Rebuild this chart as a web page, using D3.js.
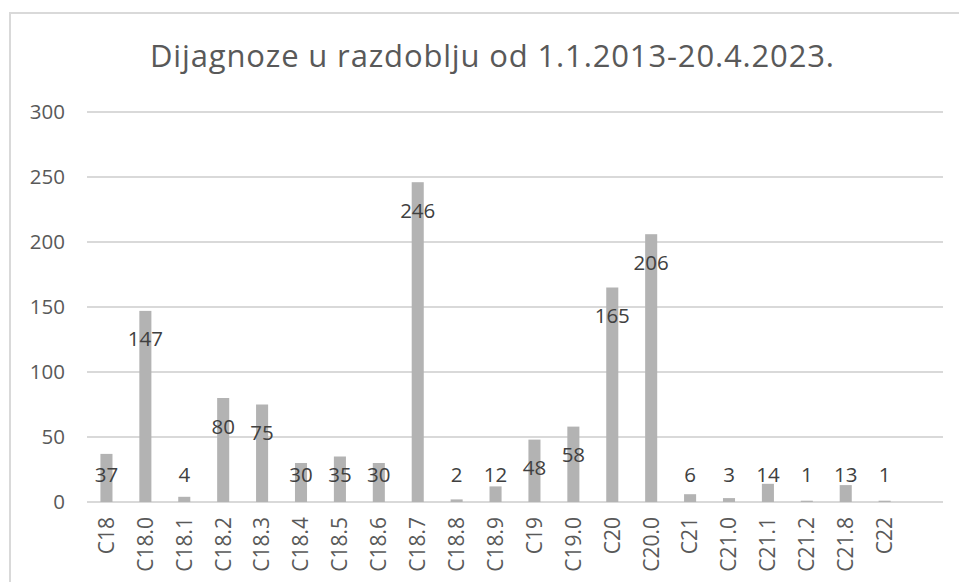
<!DOCTYPE html>
<html><head><meta charset="utf-8">
<script src="https://cdn.jsdelivr.net/npm/d3@7"></script>
<style>body{margin:0;background:#fff}svg{display:block}</style>
</head><body>
<svg id="c" width="959" height="582"></svg>
<script>
const categories = ["C18","C18.0","C18.1","C18.2","C18.3","C18.4","C18.5","C18.6","C18.7","C18.8","C18.9","C19","C19.0","C20","C20.0","C21","C21.0","C21.1","C21.2","C21.8","C22"];
const values = [37,147,4,80,75,30,35,30,246,2,12,48,58,165,206,6,3,14,1,13,1];
const yTicks = [0,50,100,150,200,250,300];
const title = "Dijagnoze u razdoblju od 1.1.2013-20.4.2023.";

const svg = d3.select("#c");
const font = "'Open Sans', sans-serif";
svg.append("rect").attr("x",10).attr("y",13).attr("width",970).attr("height",600)
  .attr("fill","#fff").attr("stroke","#d9d9d9").attr("stroke-width",2);

// plot area holds one empty slot after the last category
const slot = (943 - 87) / (categories.length + 1);
const x = d3.scaleBand().domain(categories).range([87, 943 - slot]).paddingInner(0.69).paddingOuter(0.345);
const y = d3.scaleLinear().domain([0,300]).range([502,112]);

const grid = svg.append("g");
grid.selectAll("line").data(yTicks).join("line")
  .attr("x1",87).attr("x2",943).attr("y1",d=>y(d)).attr("y2",d=>y(d))
  .attr("stroke","#d9d9d9").attr("stroke-width",2);

const yAxis = svg.append("g").attr("transform","translate(87,0)")
  .call(d3.axisLeft(y).tickValues(yTicks).tickSize(0).tickPadding(22));
yAxis.select(".domain").remove();
yAxis.selectAll("text").attr("font-family",font).attr("font-size",20.5).attr("fill","#595959");

svg.append("g").selectAll("rect").data(values).join("rect")
  .attr("x",(d,i)=>x(categories[i])).attr("width",x.bandwidth())
  .attr("y",d=>y(d)).attr("height",d=>y(0)-y(d)).attr("fill","#b3b3b3");

const xAxis = svg.append("g").attr("transform","translate(0,502)")
  .call(d3.axisBottom(x).tickSize(0).tickPadding(0));
xAxis.select(".domain").remove();
xAxis.selectAll("text").attr("font-family",font).attr("font-size",21).attr("fill","#595959")
  .attr("transform","rotate(-90)").attr("text-anchor","end").attr("dy","0.35em").attr("x",-15).attr("y",0);

svg.append("g").selectAll("text").data(values).join("text")
  .attr("x",(d,i)=>x(categories[i])+x.bandwidth()/2)
  .attr("y",d=>Math.min(y(d)+28,y(0)-28)+7.5)
  .attr("text-anchor","middle").attr("font-family",font).attr("font-size",20.5).attr("fill","#404040")
  .text(d=>d);

svg.append("text").attr("x",492).attr("y",67).attr("text-anchor","middle")
  .attr("font-family",font).attr("font-size",31).attr("fill","#595959")
  .attr("textLength",684).attr("lengthAdjust","spacing").text(title);
</script>
</body></html>
